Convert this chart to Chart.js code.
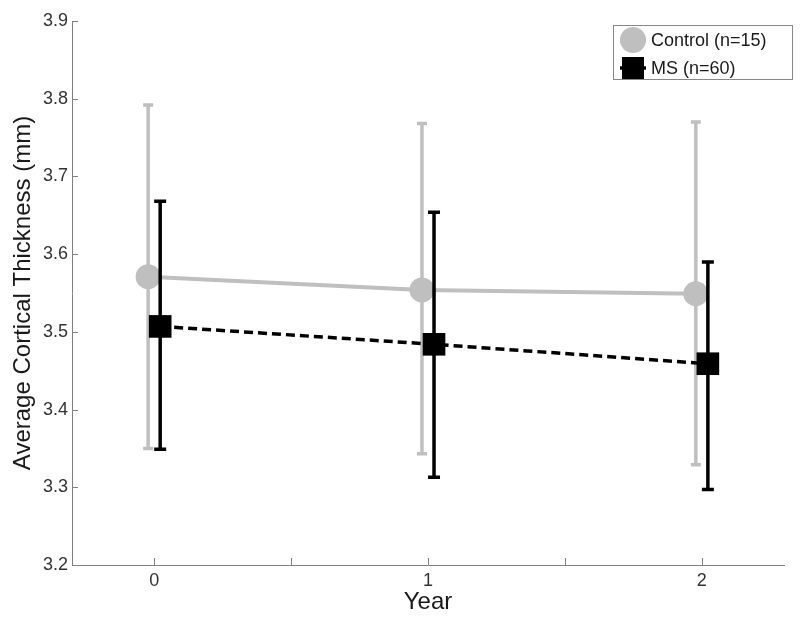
<!DOCTYPE html>
<html>
<head>
<meta charset="utf-8">
<script src="https://cdn.jsdelivr.net/npm/chart.js@4.4.1/dist/chart.umd.min.js"></script>
<style>
    html, body { margin: 0; padding: 0; background: #ffffff; }
    #wrap { width: 800px; height: 625px; }
</style>
</head>
<body>
<div id="wrap"><canvas id="chart" width="800" height="625"></canvas></div>
<script>
// chart data
const years = [0, 1, 2];
const xTicks = [0, 0.5, 1, 1.5, 2];
const controlMean = [3.571, 3.554, 3.549];
const controlUpper = [3.792, 3.768, 3.770];
const controlLower = [3.350, 3.343, 3.329];
const msMean = [3.507, 3.484, 3.459];
const msUpper = [3.668, 3.654, 3.590];
const msLower = [3.349, 3.313, 3.297];
const seriesLabels = ['Control (n=15)', 'MS (n=60)'];

const FONT = "'Liberation Sans', Arial, sans-serif";
const GRAY = '#bfbfbf';
const DODGE = 0.022;

const toPoints = (means, shift) => years.map((yr, i) => ({ x: yr + shift, y: means[i] }));

/**
 * Error bars, drawn just before each dataset so the MS series sits on top
 */
const errorBars = {
    id: 'errorBars',
    beforeDatasetDraw(chart, args) {
        const ds = chart.data.datasets[args.index];
        const { x, y } = chart.scales;
        const ctx = chart.ctx;
        ctx.save();
        ctx.strokeStyle = ds.borderColor;
        ctx.lineWidth = ds.errWidth;
        ctx.setLineDash([]);
        ds.data.forEach((p, i) => {
            const px = x.getPixelForValue(p.x);
            const top = y.getPixelForValue(ds.upper[i]);
            const bot = y.getPixelForValue(ds.lower[i]);
            ctx.beginPath();
            ctx.moveTo(px, top);
            ctx.lineTo(px, bot);
            ctx.moveTo(px - ds.capHalf, top);
            ctx.lineTo(px + ds.capHalf, top);
            ctx.moveTo(px - ds.capHalf, bot);
            ctx.lineTo(px + ds.capHalf, bot);
            ctx.stroke();
        });
        ctx.restore();
    }
};

/**
 * Inward ticks (matlab style) and the legend box
 */
const decorations = {
    id: 'decorations',
    afterDraw(chart) {
        const { x, y } = chart.scales;
        const area = chart.chartArea;
        const ctx = chart.ctx;
        ctx.save();
        ctx.strokeStyle = '#808080';
        ctx.lineWidth = 1;
        ctx.beginPath();
        y.ticks.forEach(t => {
            const py = Math.round(y.getPixelForValue(t.value)) + 0.5;
            ctx.moveTo(area.left, py);
            ctx.lineTo(area.left + 6, py);
        });
        x.ticks.forEach(t => {
            const px = Math.round(x.getPixelForValue(t.value)) + 0.5;
            ctx.moveTo(px, area.bottom);
            ctx.lineTo(px, area.bottom - 7);
        });
        ctx.stroke();

        // legend
        const bx = 613, by = 25, bw = 179, bh = 54;
        ctx.fillStyle = '#ffffff';
        ctx.fillRect(bx, by, bw, bh);
        ctx.strokeStyle = '#888888';
        ctx.strokeRect(bx + 0.5, by + 0.5, bw, bh);

        const rows = [40, 68];
        chart.data.datasets.forEach((ds, i) => {
            const cy = rows[i];
            ctx.strokeStyle = ds.borderColor;
            ctx.lineWidth = ds.borderWidth;
            ctx.setLineDash([]);
            ctx.beginPath();
            ctx.moveTo(620, cy);
            ctx.lineTo(646, cy);
            ctx.stroke();
            ctx.fillStyle = ds.pointBackgroundColor;
            if (ds.pointStyle === 'circle') {
                ctx.beginPath();
                ctx.arc(633, cy, 13, 0, Math.PI * 2);
                ctx.fill();
            } else {
                ctx.fillRect(622, cy - 11, 22, 22);
            }
            ctx.fillStyle = '#1a1a1a';
            ctx.font = '18px ' + FONT;
            ctx.textBaseline = 'middle';
            ctx.textAlign = 'left';
            ctx.fillText(seriesLabels[i], 651, cy + 1);
        });
        ctx.restore();
    }
};

new Chart(document.getElementById('chart'), {
    type: 'line',
    data: {
        datasets: [
            {
                label: seriesLabels[0],
                data: toPoints(controlMean, -DODGE),
                upper: controlUpper,
                lower: controlLower,
                borderColor: GRAY,
                borderWidth: 4,
                pointStyle: 'circle',
                pointRadius: 12.5,
                pointBackgroundColor: GRAY,
                pointBorderWidth: 0,
                errWidth: 3.5,
                capHalf: 5,
                order: 2,
            },
            {
                label: seriesLabels[1],
                data: toPoints(msMean, DODGE),
                upper: msUpper,
                lower: msLower,
                borderColor: '#000000',
                borderWidth: 3.5,
                borderDash: [9, 5],
                pointStyle: 'rect',
                pointRadius: 16,
                pointBackgroundColor: '#000000',
                pointBorderWidth: 0,
                errWidth: 3.5,
                capHalf: 6,
                order: 1,
            },
        ],
    },
    options: {
        responsive: false,
        animation: false,
        events: [],
        layout: { padding: { top: 21, right: 12, left: 0, bottom: 0 } },
        plugins: {
            legend: { display: false },
            tooltip: { enabled: false },
        },
        scales: {
            x: {
                type: 'linear',
                min: -0.3,
                max: 2.3,
                afterBuildTicks: (s) => { s.ticks = xTicks.map(v => ({ value: v })); },
                afterFit: (s) => { s.height = 60; },
                grid: { display: false, drawTicks: false },
                border: { display: true, color: '#808080', width: 1 },
                ticks: {
                    padding: 5,
                    color: '#333333',
                    font: { family: FONT, size: 18 },
                    callback: (v) => (Number.isInteger(v) ? String(v) : ''),
                    maxRotation: 0,
                    autoSkip: false,
                },
                title: {
                    display: true,
                    text: 'Year',
                    color: '#1a1a1a',
                    font: { family: FONT, size: 24, lineHeight: 1 },
                    padding: { top: 0, bottom: 11 },
                },
            },
            y: {
                min: 3.2,
                max: 3.9,
                afterFit: (s) => { s.width = 72; },
                grid: { display: false, drawTicks: false },
                border: { display: true, color: '#808080', width: 1 },
                ticks: {
                    stepSize: 0.1,
                    padding: 4,
                    color: '#333333',
                    font: { family: FONT, size: 18 },
                    callback: (v) => v.toFixed(1),
                },
                title: {
                    display: true,
                    text: 'Average Cortical Thickness (mm)',
                    color: '#1a1a1a',
                    font: { family: FONT, size: 24, lineHeight: 1 },
                    padding: { top: 11, bottom: 0 },
                },
            },
        },
    },
    plugins: [errorBars, decorations],
});
</script>
</body>
</html>
